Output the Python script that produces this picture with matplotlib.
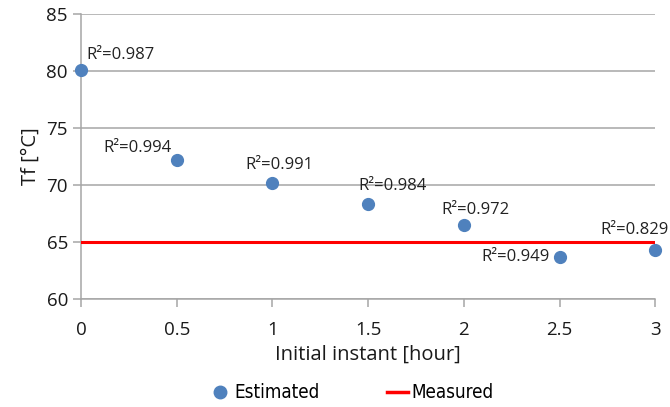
import matplotlib.pyplot as plt
from matplotlib.lines import Line2D
from matplotlib import font_manager

instants = [0, 0.5, 1, 1.5, 2, 2.5, 3]
tf_estimated = [80.1, 72.2, 70.2, 68.3, 66.5, 63.7, 64.3]
r2_values = ["0.987", "0.994", "0.991", "0.984", "0.972", "0.949", "0.829"]
tf_measured = 65

# label offsets in pixels (dx, dy) and horizontal alignment per point
label_offsets = [(5, 15, "left"), (-5, 12, "right"), (7, 18, "center"),
                 (-10, 18, "left"), (-22, 15, "left"), (-10, 0, "right"),
                 (13, 20, "right")]

plt.rcParams["font.family"] = ["Open Sans", "DejaVu Sans"]

fig = plt.figure(figsize=(6.7, 4.07), dpi=100)
ax = fig.add_axes([0.121, 0.265, 0.857, 0.701])

blue = "#4F81BD"
ax.plot(instants, tf_estimated, "o", color=blue, markersize=8.5, clip_on=False, zorder=4)
ax.plot([instants[0], instants[-1]], [tf_measured, tf_measured], color="#FF0000",
        linewidth=2.2, zorder=3)

for x, y, r2, (dx, dy, ha) in zip(instants, tf_estimated, r2_values, label_offsets):
    ax.annotate(f"R²={r2}", (x, y), xytext=(dx, dy), textcoords="offset pixels",
                ha=ha, va="center", fontsize=12, color="#222222",
                annotation_clip=False)

ax.set_xlim(0, 3)
ax.set_ylim(60, 85)
ax.set_xticks(instants)
ax.set_xticklabels(["0", "0.5", "1", "1.5", "2", "2.5", "3"])
ax.set_yticks([60, 65, 70, 75, 80, 85])
ax.yaxis.grid(True, color="#A6A6A6", linewidth=1.1)
ax.set_axisbelow(True)

for s in ["top", "right"]:
    ax.spines[s].set_visible(False)
for s in ["left", "bottom"]:
    ax.spines[s].set_color("#A6A6A6")
    ax.spines[s].set_linewidth(1.1)

ax.tick_params(axis="both", colors="#A6A6A6", labelcolor="#1a1a1a",
               labelsize=13.5, length=6, width=1.1)
ax.tick_params(axis="x", pad=10)

ax.set_xlabel("Initial instant [hour]", fontsize=14.5, color="#1a1a1a", labelpad=4)
ax.set_ylabel("Tf [°C]", fontsize=14.5, color="#1a1a1a", labelpad=4)

handles = [
    Line2D([], [], marker="o", linestyle="none", color=blue, markersize=9),
    Line2D([], [], color="#FF0000", linewidth=2.5),
]
leg_font = font_manager.FontProperties(family="DejaVu Sans", stretch="condensed", size=13.5)
fig.legend(handles, ["Estimated", "Measured"], loc="lower center",
           bbox_to_anchor=(0.525, -0.03), ncol=2, frameon=False,
           columnspacing=3.6, handlelength=1.1, handletextpad=0.2,
           prop=leg_font)

fig.savefig("out.png", dpi=100, facecolor="white")
